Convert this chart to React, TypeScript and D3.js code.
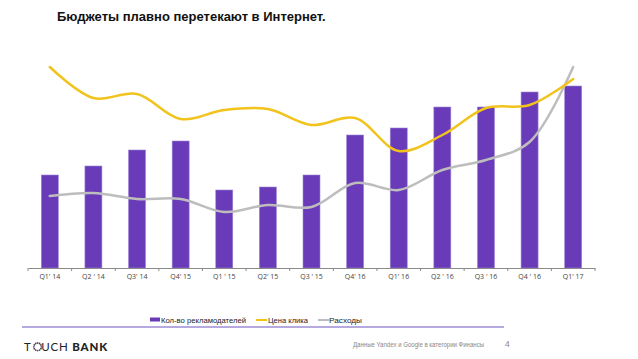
import React, { useEffect, useRef } from "react";
import * as d3 from "d3";

const categories = ["Q1' 14", "Q2 ' 14", "Q3' 14", "Q4' 15", "Q1 ' 15", "Q2' 15", "Q3 ' 15", "Q4' 16", "Q1' 16", "Q2 ' 16", "Q3 ' 16", "Q4 ' 16", "Q1' 17"];
const advertisers = [93, 102, 118, 127, 78, 81, 93, 133, 140, 161, 161, 176, 182];
const clickPrice = [201, 170, 174, 149, 158, 159, 143, 150, 117, 133, 160, 163, 189];
const spending = [72, 75, 69, 69, 56, 63, 61, 85, 78, 98, 108, 126, 201];
const legendLabels = ["Кол-во рекламодателей", "Цена клика", "Расходы"];

const W = 638;
const H = 359;

export default function App() {
  const ref = useRef<SVGSVGElement | null>(null);

  useEffect(() => {
    document.body.style.margin = "0";
    const svg = d3.select(ref.current);
    svg.selectAll("*").remove();

    const purple = "#6a3bb8";
    const yellow = "#f2c31c";
    const gray = "#bdbdbd";

    // title
    svg.append("text")
      .attr("x", 57).attr("y", 21)
      .attr("font-family", "Liberation Sans, Arial, sans-serif")
      .attr("font-weight", "bold").attr("font-size", 13)
      .attr("fill", "#111")
      .text("Бюджеты плавно перетекают в Интернет.");

    const x = d3.scaleBand<string>().domain(categories).range([28, 595]).paddingInner(0).paddingOuter(0);
    const y = d3.scaleLinear().domain([0, 210]).range([268, 58]);
    const cx = (i: number) => (x(categories[i]) as number) + x.bandwidth() / 2;

    const g = svg.append("g");

    // bars
    const bw = 17;
    g.selectAll(".bar").data(advertisers).enter().append("rect")
      .attr("x", (d, i) => cx(i) - bw / 2)
      .attr("y", d => y(d))
      .attr("width", bw)
      .attr("height", d => y(0) - y(d))
      .attr("fill", purple)
      .attr("stroke", "#9b86d6").attr("stroke-width", 0.6);

    // axis
    const xAxis = d3.axisBottom(x).tickSize(0).tickPadding(6);
    const ax = g.append("g").attr("transform", `translate(0,${y(0)})`).call(xAxis);
    ax.select(".domain").attr("stroke", "#8a8a8a");
    ax.selectAll(".tick text")
      .attr("font-family", "Open Sans, DejaVu Sans, sans-serif")
      .attr("font-size", 7).attr("fill", "#444");
    const edges = categories.map(c => x(c) as number).concat([595]);
    g.selectAll(".edge").data(edges).enter().append("line")
      .attr("x1", d => d).attr("x2", d => d)
      .attr("y1", y(0)).attr("y2", y(0) + 3)
      .attr("stroke", "#8a8a8a").attr("stroke-width", 1);

    const line = d3.line<number>()
      .x((d, i) => cx(i))
      .y(d => y(d))
      .curve(d3.curveCatmullRom.alpha(0.5));

    g.append("path").datum(spending).attr("d", line).attr("fill", "none")
      .attr("stroke", gray).attr("stroke-width", 2.5).attr("stroke-linecap", "round");
    g.append("path").datum(clickPrice).attr("d", line).attr("fill", "none")
      .attr("stroke", yellow).attr("stroke-width", 2.5).attr("stroke-linecap", "round");

    // legend
    const lg = svg.append("g").attr("font-family", "Liberation Sans, Arial, sans-serif").attr("font-size", 8).attr("fill", "#222");
    lg.append("rect").attr("x", 150).attr("y", 317.5).attr("width", 10).attr("height", 4).attr("fill", purple);
    lg.append("text").attr("x", 161).attr("y", 323).attr("textLength", 85).attr("lengthAdjust", "spacingAndGlyphs").text(legendLabels[0]);
    lg.append("line").attr("x1", 256).attr("x2", 267).attr("y1", 320).attr("y2", 320).attr("stroke", yellow).attr("stroke-width", 2);
    lg.append("text").attr("x", 268).attr("y", 323).attr("textLength", 40).attr("lengthAdjust", "spacingAndGlyphs").text(legendLabels[1]);
    lg.append("line").attr("x1", 318).attr("x2", 329).attr("y1", 320).attr("y2", 320).attr("stroke", gray).attr("stroke-width", 2);
    lg.append("text").attr("x", 329).attr("y", 323).attr("textLength", 33).attr("lengthAdjust", "spacingAndGlyphs").text(legendLabels[2]);

    // footer
    svg.append("line").attr("x1", 22).attr("x2", 504).attr("y1", 327).attr("y2", 327)
      .attr("stroke", "#6d55bf").attr("stroke-width", 1.2);
    const logo = svg.append("text").attr("x", 24).attr("y", 351)
      .attr("font-family", "Lato, Open Sans, sans-serif").attr("font-size", 11.5).attr("fill", "#222")
      .attr("letter-spacing", 0.8);
    logo.append("tspan").attr("font-weight", 400).text("T");
    logo.append("tspan").attr("font-weight", 400).attr("fill", "#fff").text("O");
    logo.append("tspan").attr("font-weight", 400).text("UCH ");
    logo.append("tspan").attr("font-weight", 900).text("BANK");
    // dotted "O"
    const ocx = 37.6, ocy = 346.8;
    const dots = d3.range(12);
    svg.selectAll(".odot").data(dots).enter().append("circle")
      .attr("cx", d => ocx + 3.8 * Math.cos((d / 12) * 2 * Math.PI))
      .attr("cy", d => ocy + 3.8 * Math.sin((d / 12) * 2 * Math.PI))
      .attr("r", 0.9)
      .attr("fill", (d, i) => (i % 3 === 0 ? "#6a3bb8" : "#444"));

    svg.append("text").attr("x", 353).attr("y", 347)
      .attr("font-family", "Liberation Sans, Arial, sans-serif").attr("font-size", 6.5).attr("fill", "#888")
      .attr("textLength", 131).attr("lengthAdjust", "spacingAndGlyphs")
      .text("Данные  Yandex и Google в категории Финансы");
    svg.append("text").attr("x", 505).attr("y", 347)
      .attr("font-family", "Liberation Sans, Arial, sans-serif").attr("font-size", 8.5).attr("fill", "#888")
      .text("4");
  }, []);

  return <svg ref={ref} width={W} height={H} style={{ display: "block", background: "#fff" }} />;
}
